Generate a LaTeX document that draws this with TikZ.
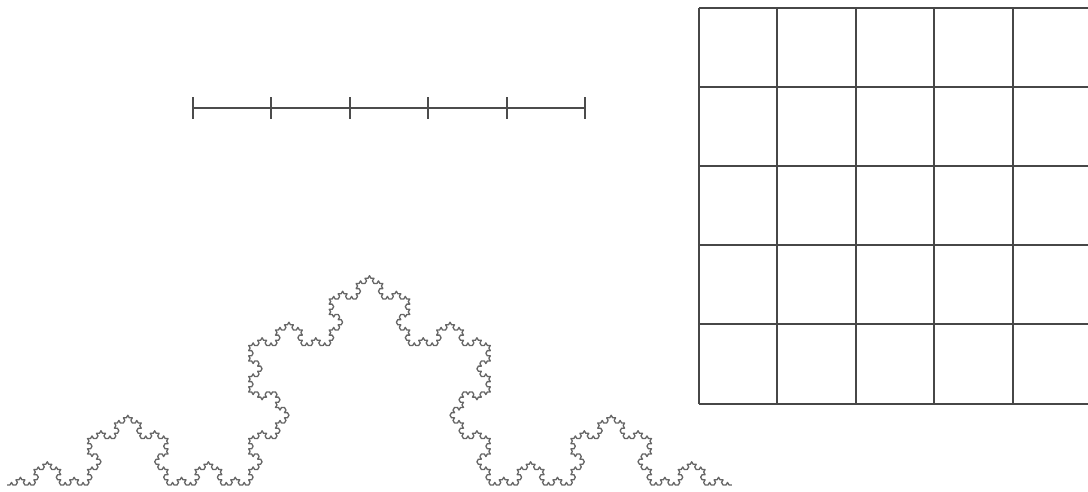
\documentclass[tikz,border=0pt]{standalone}
\usetikzlibrary{lindenmayersystems}
\pgfdeclarelindenmayersystem{Koch curve}{\rule{F -> F+F--F+F}}
\begin{document}
\begin{tikzpicture}[x=1pt,y=1pt,
  gridline/.style={line width=2pt,draw=black!72},
  segline/.style={line width=1.8pt,draw=black!70},
  kochline/.style={line width=1.3pt,draw=black!60,line join=round}]
\useasboundingbox (0,0) rectangle (1088,492);
\clip (0,0) rectangle (1088,492);
\fill[white] (0,0) rectangle (1088,492);
% segment with ticks
\draw[segline] (193,384) -- (585,384);
\foreach \x in {193,271,350,428,507,585}{
  \draw[segline] (\x,373) -- (\x,395);
}
% grid
\foreach \x in {699,777,856,934,1013,1092}{
  \draw[gridline] (\x,88) -- (\x,484);
}
\foreach \y in {88,168,247,326,405,484}{
  \draw[gridline] (699,\y) -- (1095,\y);
}
% Koch curve
\begin{scope}[shift={(7,7)}]
\draw[kochline] [lindenmayer system={Koch curve, step=2.9835pt, angle=60, axiom=F, order=5}] lindenmayer system;
\end{scope}
\end{tikzpicture}
\end{document}
